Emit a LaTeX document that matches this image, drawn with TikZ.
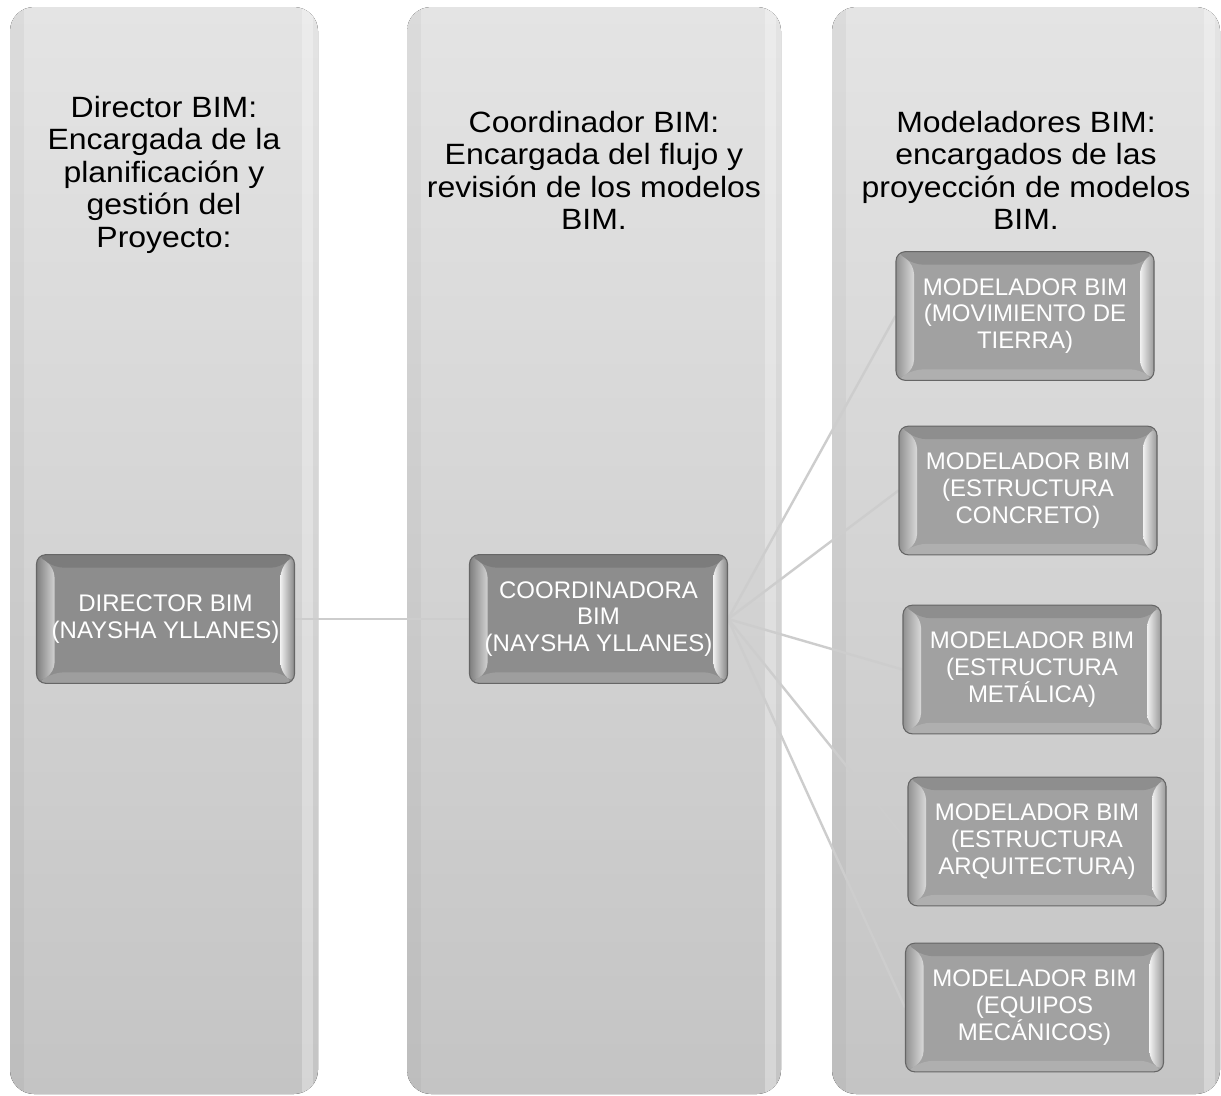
\documentclass[tikz,border=0pt]{standalone}
\usepackage{fontspec}
\setmainfont{Liberation Sans}
\newfontfamily\hdrfont[FakeStretch=1.09]{Liberation Sans}
\newfontfamily\boxfont{Liberation Sans}
\usetikzlibrary{calc}
\pgfdeclarelayer{cols}
\pgfdeclarelayer{links}
\pgfsetlayers{cols,links,main}
\definecolor{colTop}{HTML}{E4E4E4}
\definecolor{colBot}{HTML}{C4C4C4}
\definecolor{linkCol}{HTML}{CDCDCD}
\definecolor{darkFace}{HTML}{8D8D8D}
\definecolor{lightFace}{HTML}{A1A1A1}
\definecolor{boxLine}{HTML}{666666}
\newcommand\hstrut{\rule{0pt}{16.5pt}}
\newcommand\bevelpic[1]{%
 \path (path picture bounding box.north west) coordinate (bNW)
       (path picture bounding box.north east) coordinate (bNE)
       (path picture bounding box.south east) coordinate (bSE)
       (path picture bounding box.south west) coordinate (bSW);
 \path ($(bNW)+(18,13)$) coordinate (iNW)
       ($(bNE)+(-14,13)$) coordinate (iNE)
       ($(bSE)+(-14,-11)$) coordinate (iSE)
       ($(bSW)+(18,-11)$) coordinate (iSW);
 \fill[#1!88!black] (bNW) -- (bNE) -- (iNE) -- (iNW) -- cycle;
 \fill[#1!85!white] (bSW) -- (bSE) -- (iSE) -- (iSW) -- cycle;
 \shade[left color=#1!90!black, right color=#1!40!white] (bNW) -- (iNW) -- (iSW) -- (bSW) -- cycle;
 \shade[left color=#1!15!white, right color=#1!95!black] (iNE) -- (bNE) -- (bSE) -- (iSE) -- cycle;
}
\newcommand\drawcol[2]{%
 \fill[top color=colTop, bottom color=colBot, rounded corners=18pt] (#1,7) rectangle (#2,1094);
 \begin{scope}
  \clip[rounded corners=18pt] (#1,7) rectangle (#2,1094);
  \fill[black, opacity=0.035] (#1,7) rectangle (#1+14,1094);
  \fill[white, opacity=0.3] (#2-16,7) rectangle (#2-5,1094);
 \end{scope}
}
\tikzset{
 hdr/.style={font=\hdrfont\fontsize{22}{24.4}\selectfont, align=center, inner sep=0pt, anchor=north, text=black},
 bx/.style={rounded corners=7pt, draw=boxLine, line width=0.8pt, text=white, align=center, inner sep=0pt,
   minimum width=193.5pt, minimum height=96.5pt, font=\boxfont\fontsize{18}{20}\selectfont},
 dbox/.style={bx, fill=darkFace, path picture={\bevelpic{darkFace}}},
 mbox/.style={bx, fill=lightFace, path picture={\bevelpic{lightFace}}},
 link/.style={draw=linkCol, line width=1.8pt},
}
\begin{document}
\begin{tikzpicture}[x=0.75pt,y=-0.75pt]
\useasboundingbox (0,0) rectangle (1221,1096);
\begin{pgfonlayer}{cols}
 \fill[white] (0,0) rectangle (1221,1096);
 \drawcol{10}{318}
 \drawcol{407}{781}
 \drawcol{832}{1220}
\end{pgfonlayer}

\node[hdr] (h1) at (164,95) {\hstrut Director BIM:\\Encargada de la\\planificación y\\gestión del\\Proyecto:};
\node[hdr] (h2) at (594,110) {\hstrut Coordinador BIM:\\Encargada del flujo y\\revisión de los modelos\\BIM.};
\node[hdr] (h3) at (1026,110) {\hstrut Modeladores BIM:\\encargados de las\\proyección de modelos\\BIM.};

\node[dbox] (dir) at (165.5,619) {DIRECTOR BIM\\(NAYSHA YLLANES)};
\node[dbox] (coord) at (598.5,619) {COORDINADORA\\BIM\\(NAYSHA YLLANES)};
\node[mbox] (m1) at (1025,316) {MODELADOR BIM\\(MOVIMIENTO DE\\TIERRA)};
\node[mbox] (m2) at (1028,490.5) {MODELADOR BIM\\(ESTRUCTURA\\CONCRETO)};
\node[mbox] (m3) at (1032,669.5) {MODELADOR BIM\\(ESTRUCTURA\\METÁLICA)};
\node[mbox] (m4) at (1037,841.5) {MODELADOR BIM\\(ESTRUCTURA\\ARQUITECTURA)};
\node[mbox] (m5) at (1034.5,1007.5) {MODELADOR BIM\\(EQUIPOS\\MECÁNICOS)};

\begin{pgfonlayer}{links}
 \draw[link] (dir.east) -- (coord.west);
 \foreach \m in {m1,m2,m3,m4,m5} \draw[link] (coord.east) -- (\m.west);
\end{pgfonlayer}
\end{tikzpicture}
\end{document}
